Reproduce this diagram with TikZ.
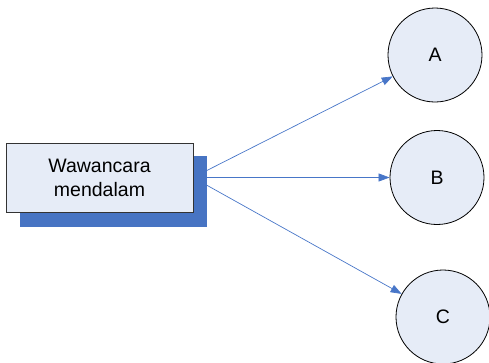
\documentclass[tikz,border=0pt]{standalone}
\usepackage{fontspec}
\setmainfont{Liberation Sans}
\usetikzlibrary{arrows.meta}
\definecolor{lightfill}{RGB}{230,236,247}
\definecolor{shadowblue}{RGB}{71,116,195}
\definecolor{arrowblue}{RGB}{72,118,200}
\tikzset{
  node font=\fontsize{19.5}{24}\selectfont,
  mainbox/.style={draw=black!80, fill=lightfill, line width=0.8pt, minimum width=187pt, minimum height=69pt, align=center, inner sep=0pt},
  shadowbox/.style={fill=shadowblue, minimum width=187pt, minimum height=71pt, inner sep=0pt},
  target/.style={circle, draw=black, fill=lightfill, line width=0.8pt, minimum size=94pt, inner sep=0pt},
  conn/.style={draw=arrowblue, line width=0.7pt, -{Triangle[length=11pt,width=8pt]}}
}
\begin{document}
\begin{tikzpicture}[x=1pt,y=-1pt]
\useasboundingbox (0,0) rectangle (489,362);
\node[target] (A) at (435,55) {A};
\node[target] (B) at (437,177.5) {B};
\node[target] (C) at (443,317) {C};
\coordinate (src) at (193,177.5);
\draw[conn] (src) -- (A);
\draw[conn] (src) -- (B.west);
\draw[conn] (src) -- (C);
\node[shadowbox] (S) at (113.5,191.5) {};
\node[mainbox] (M) at (99.5,177.5) {Wawancara\\mendalam};
\end{tikzpicture}
\end{document}
